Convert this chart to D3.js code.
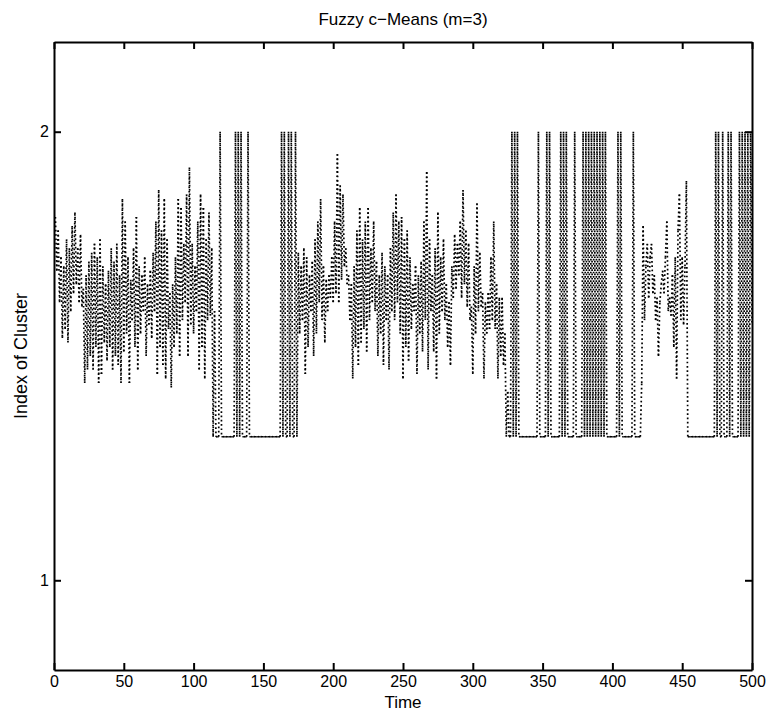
<!DOCTYPE html>
<html>
<head>
<meta charset="utf-8">
<script src="https://cdn.jsdelivr.net/npm/d3@7"></script>
<style>
  body { margin: 0; background: #fff; }
  text { font-family: "Liberation Sans", Arial, Helvetica, sans-serif; fill: #000; }
</style>
</head>
<body>
<div id="chart"></div>
<script>
// tick values
var timeTicks = [0, 50, 100, 150, 200, 250, 300, 350, 400, 450, 500];
var indexTicks = [1, 2];

// cluster index, t = 1..500, split by regime
// t 1-113 : oscillating
var seg1 = [1.81, 1.69, 1.78, 1.62, 1.72, 1.54, 1.70, 1.56, 1.76, 1.53,
  1.74, 1.60, 1.79, 1.64, 1.82, 1.66, 1.74, 1.62, 1.77, 1.61,
  1.65, 1.44, 1.68, 1.47, 1.71, 1.50, 1.73, 1.47, 1.75, 1.52,
  1.72, 1.44, 1.76, 1.46, 1.70, 1.53, 1.66, 1.49, 1.69, 1.52,
  1.74, 1.47, 1.71, 1.50, 1.75, 1.48, 1.68, 1.44, 1.85, 1.51,
  1.80, 1.55, 1.72, 1.44, 1.67, 1.58, 1.74, 1.52, 1.81, 1.47,
  1.70, 1.55, 1.68, 1.60, 1.72, 1.50, 1.66, 1.57, 1.69, 1.54,
  1.73, 1.60, 1.80, 1.46, 1.87, 1.52, 1.78, 1.48, 1.85, 1.45,
  1.76, 1.56, 1.64, 1.43, 1.66, 1.52, 1.72, 1.55, 1.85, 1.50,
  1.83, 1.58, 1.75, 1.62, 1.86, 1.50, 1.92, 1.57, 1.75, 1.55,
  1.70, 1.60, 1.80, 1.47, 1.86, 1.52, 1.83, 1.45, 1.76, 1.58,
  1.82, 1.59, 1.74];
// t 114-174 : switching
var seg2 = [1.32, 1.60, 1.32, 1.32, 1.32, 2.00, 1.32, 1.32, 1.32, 1.32,
  1.32, 1.32, 1.32, 1.32, 1.32, 1.32, 2.00, 1.32, 2.00, 1.32,
  2.00, 1.32, 1.32, 1.32, 1.32, 2.00, 1.32, 1.32, 1.32, 1.32,
  1.32, 1.32, 1.32, 1.32, 1.32, 1.32, 1.32, 1.32, 1.32, 1.32,
  1.32, 1.32, 1.32, 1.32, 1.32, 1.32, 1.32, 1.32, 1.32, 2.00,
  1.32, 2.00, 1.32, 1.32, 2.00, 1.32, 2.00, 1.32, 1.32, 2.00,
  1.32];
// t 175-323 : oscillating
var seg3 = [1.73, 1.55, 1.70, 1.58, 1.74, 1.46, 1.72, 1.52, 1.68, 1.60,
  1.71, 1.50, 1.76, 1.55, 1.80, 1.62, 1.85, 1.58, 1.70, 1.53,
  1.67, 1.60, 1.68, 1.63, 1.72, 1.62, 1.80, 1.64, 1.95, 1.62,
  1.88, 1.67, 1.86, 1.70, 1.74, 1.66, 1.68, 1.58, 1.66, 1.45,
  1.70, 1.52, 1.78, 1.48, 1.83, 1.53, 1.76, 1.56, 1.80, 1.51,
  1.83, 1.58, 1.74, 1.62, 1.80, 1.60, 1.71, 1.50, 1.68, 1.55,
  1.73, 1.48, 1.70, 1.58, 1.68, 1.47, 1.74, 1.60, 1.82, 1.58,
  1.86, 1.62, 1.80, 1.55, 1.81, 1.45, 1.76, 1.52, 1.78, 1.49,
  1.72, 1.56, 1.66, 1.60, 1.70, 1.46, 1.68, 1.55, 1.71, 1.51,
  1.80, 1.58, 1.91, 1.47, 1.76, 1.60, 1.68, 1.51, 1.74, 1.45,
  1.82, 1.55, 1.72, 1.60, 1.76, 1.58, 1.66, 1.52, 1.62, 1.48,
  1.70, 1.63, 1.77, 1.65, 1.75, 1.68, 1.80, 1.63, 1.87, 1.66,
  1.78, 1.61, 1.75, 1.58, 1.61, 1.46, 1.70, 1.55, 1.84, 1.60,
  1.73, 1.61, 1.64, 1.45, 1.62, 1.55, 1.64, 1.56, 1.72, 1.58,
  1.80, 1.56, 1.66, 1.45, 1.63, 1.50, 1.63, 1.48, 1.55];
// t 324-420 : switching
var seg4 = [1.32, 1.42, 1.32, 1.32, 2.00, 1.32, 2.00, 1.32, 2.00, 1.32,
  1.32, 1.32, 1.32, 1.32, 1.32, 1.32, 1.32, 1.32, 1.32, 1.32,
  1.32, 1.32, 1.32, 2.00, 1.32, 1.32, 1.32, 1.32, 1.32, 2.00,
  1.32, 2.00, 1.32, 1.32, 1.32, 1.32, 1.32, 1.32, 1.32, 2.00,
  1.32, 2.00, 1.32, 2.00, 1.32, 1.32, 1.32, 1.32, 1.32, 2.00,
  1.32, 1.32, 1.32, 1.32, 1.32, 2.00, 1.32, 2.00, 1.32, 2.00,
  1.32, 2.00, 1.32, 2.00, 1.32, 2.00, 1.32, 2.00, 1.32, 2.00,
  1.32, 2.00, 1.32, 1.32, 1.32, 1.32, 1.32, 1.32, 1.32, 1.32,
  2.00, 1.32, 2.00, 1.32, 1.32, 1.32, 1.32, 1.32, 1.32, 1.32,
  1.32, 2.00, 1.32, 1.32, 1.32, 1.32, 1.32];
// t 421-453 : oscillating
var seg5 = [1.44, 1.79, 1.58, 1.70, 1.75, 1.63, 1.72, 1.75, 1.64, 1.68,
  1.58, 1.63, 1.50, 1.62, 1.66, 1.69, 1.64, 1.72, 1.80, 1.60,
  1.63, 1.59, 1.68, 1.52, 1.72, 1.45, 1.78, 1.86, 1.58, 1.72,
  1.57, 1.70, 1.89];
// t 454-500 : switching
var seg6 = [1.32, 1.32, 1.32, 1.32, 1.32, 1.32, 1.32, 1.32, 1.32, 1.32,
  1.32, 1.32, 1.32, 1.32, 1.32, 1.32, 1.32, 1.32, 1.32, 1.32,
  2.00, 1.32, 2.00, 1.32, 1.32, 2.00, 1.32, 1.32, 1.32, 2.00,
  1.32, 2.00, 1.32, 1.32, 1.32, 1.32, 1.32, 2.00, 1.32, 2.00,
  1.32, 2.00, 1.32, 2.00, 1.32, 2.00, 1.57];

var clusterIndex = seg1.concat(seg2, seg3, seg4, seg5, seg6);
var points = clusterIndex.map(function(v, i) { return { t: i + 1, v: v }; });

var svgWidth = 768;
var svgHeight = 711;
var margin = { top: 42, right: 16, bottom: 41, left: 54 };
var width = svgWidth - margin.left - margin.right;
var height = svgHeight - margin.top - margin.bottom;

var svg = d3.select("#chart")
  .append("svg")
  .attr("width", svgWidth)
  .attr("height", svgHeight);

var chartGroup = svg.append("g")
  .attr("transform", `translate(${margin.left}, ${margin.top})`);

var xScale = d3.scaleLinear().domain([0, 500]).range([0, width]);
var yScale = d3.scaleLinear().domain([0.8, 2.2]).range([height, 0]);

// dotted line, each segment starts its own dash pattern (like matlab ':')
var pairs = d3.pairs(points);
chartGroup.append("g")
  .selectAll("line")
  .data(pairs)
  .enter()
  .append("line")
  .attr("x1", d => xScale(d[0].t))
  .attr("y1", d => yScale(d[0].v))
  .attr("x2", d => xScale(d[1].t))
  .attr("y2", d => yScale(d[1].v))
  .attr("stroke", "#000")
  .attr("stroke-width", 1.7)
  .attr("stroke-dasharray", "1.7,2.6");

// axes, ticks inside, box around
var tickLen = 7;
var xBottom = d3.axisBottom(xScale).tickValues(timeTicks).tickSizeInner(-tickLen).tickSizeOuter(0).tickPadding(6);
var xTop = d3.axisTop(xScale).tickValues(timeTicks).tickSizeInner(-tickLen).tickSizeOuter(0).tickFormat("");
var yLeft = d3.axisLeft(yScale).tickValues(indexTicks).tickSizeInner(-tickLen).tickSizeOuter(0).tickPadding(5).tickFormat(d3.format("d"));
var yRight = d3.axisRight(yScale).tickValues(indexTicks).tickSizeInner(-tickLen).tickSizeOuter(0).tickFormat("");

function styleAxis(g) {
  g.select(".domain").attr("stroke", "#000").attr("stroke-width", 2);
  g.selectAll(".tick line").attr("stroke", "#000").attr("stroke-width", 2);
  g.selectAll(".tick text").attr("font-size", "16px").attr("fill", "#000")
    .attr("font-family", "'Liberation Sans', Arial, sans-serif");
}

chartGroup.append("g").attr("transform", `translate(0, ${height})`).call(xBottom).call(styleAxis);
chartGroup.append("g").call(xTop).call(styleAxis);
chartGroup.append("g").call(yLeft).call(styleAxis);
chartGroup.append("g").attr("transform", `translate(${width}, 0)`).call(yRight).call(styleAxis);

// labels
chartGroup.append("text")
  .attr("x", width / 2)
  .attr("y", -17)
  .attr("text-anchor", "middle")
  .attr("font-size", "17px")
  .text("Fuzzy c\u2212Means (m=3)");

chartGroup.append("text")
  .attr("x", width / 2)
  .attr("y", height + 38)
  .attr("text-anchor", "middle")
  .attr("font-size", "17px")
  .text("Time");

chartGroup.append("text")
  .attr("transform", "rotate(-90)")
  .attr("x", -height / 2)
  .attr("y", -27)
  .attr("text-anchor", "middle")
  .attr("font-size", "18px")
  .text("Index of Cluster");
</script>
</body>
</html>
